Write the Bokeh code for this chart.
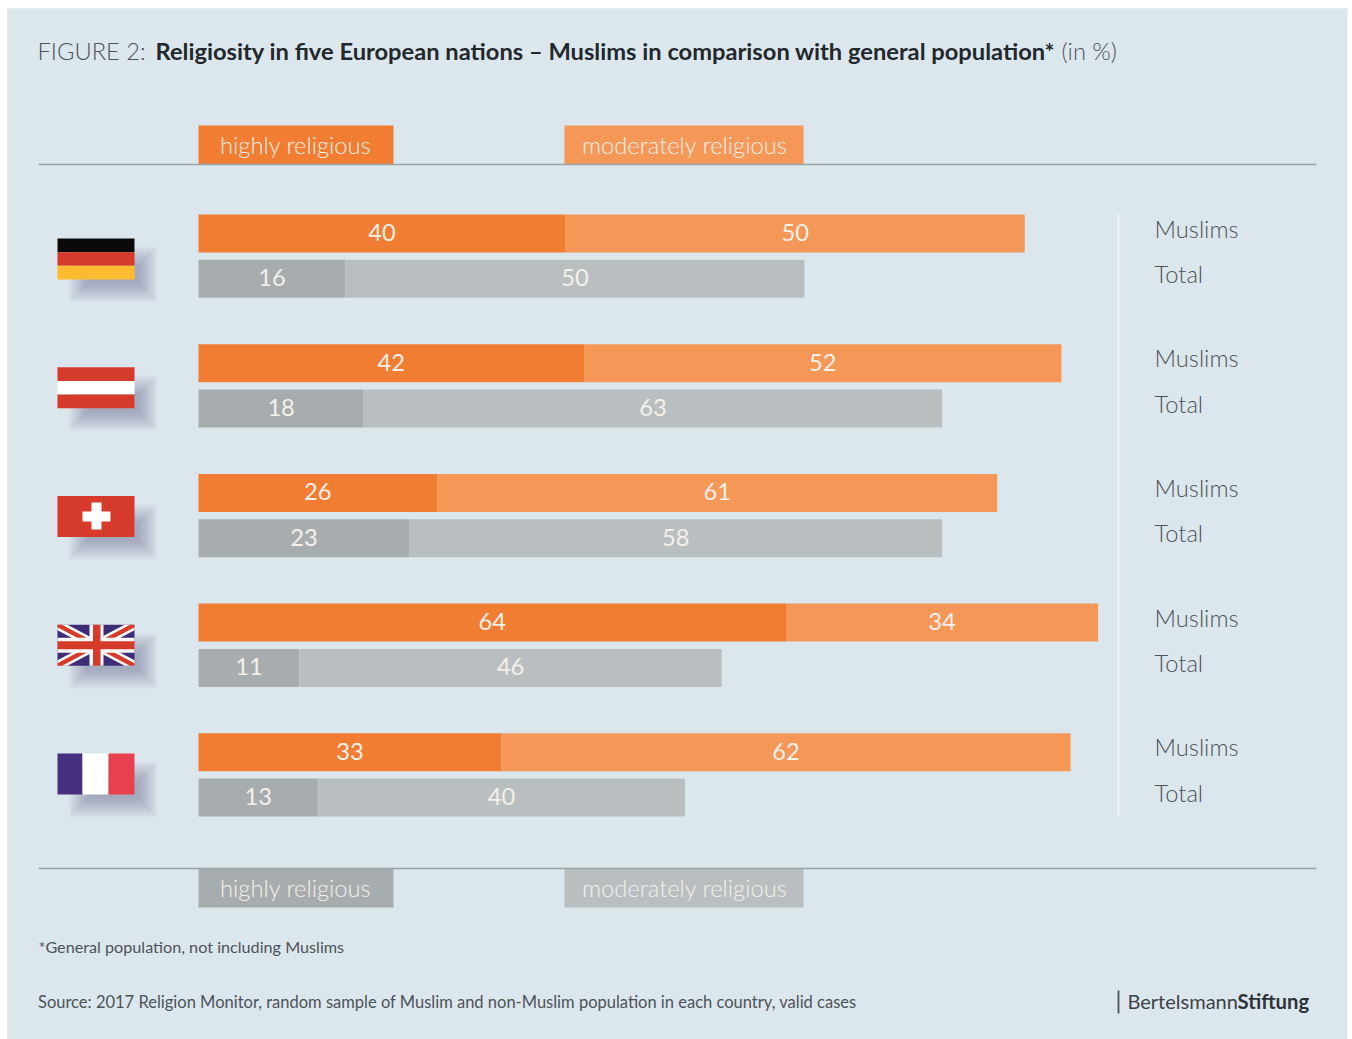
from bokeh.embed import file_html
from bokeh.resources import INLINE
from bokeh.models import Range1d
from bokeh.plotting import figure
from bokeh.core.properties import value

# Survey shares in percent, one row per country
countries = ["Germany", "Austria", "Switzerland", "United Kingdom", "France"]
muslims_high = [40, 42, 26, 64, 33]
muslims_moderate = [50, 52, 61, 34, 62]
total_high = [16, 18, 23, 11, 13]
total_moderate = [50, 63, 58, 46, 40]

WIDTH, HEIGHT = 1352, 1039
UNIT = 9.18          # page pixels per percentage point
ZERO = 198           # page x of the 0 % baseline
ROW_TOP = 233
ROW_STEP = 129.7
PAIR_GAP = 45.3
BAR_H = 38
TEXT_SIZE = 23.7

PANEL = "#dce7ed"
ORANGE_D = "#f07d32"
ORANGE_L = "#f49757"
GREY_D = "#a7adae"
GREY_L = "#b9bfc1"
INK = "#4c5358"
RULE = "#98a3a7"
ON_BAR = "#f4f0ea"

p = figure(
    width=WIDTH, height=HEIGHT, output_backend="svg", toolbar_location=None,
    x_range=Range1d(-ZERO / UNIT, (WIDTH - ZERO) / UNIT),
    y_range=Range1d(HEIGHT, 0),
    x_axis_location=None, y_axis_location=None, min_border=0,
    background_fill_color="white", border_fill_color="white", outline_line_color=None,
)
p.grid.visible = False
p.extra_x_ranges["page"] = Range1d(0, WIDTH)


def box(x0, y0, x1, y1, color, alpha=1.0):
    p.quad(left=[x0], right=[x1], top=[y0], bottom=[y1], fill_color=color, fill_alpha=alpha,
           line_color=None, x_range_name="page")


def label(x, y, s, size, color, font="Lato", style="normal", align="left"):
    p.text(x=[x], y=[y], text=[s], text_font=value(font), text_font_size=f"{size}px",
           text_font_style=style, text_color=color, text_align=align, text_baseline="middle",
           x_range_name="page")


def rule(x0, y0, x1, y1, color, width=1.6):
    p.line(x=[x0, x1], y=[y0, y1], line_color=color, line_width=width, x_range_name="page")


def poly(xs, ys, color):
    p.patch(x=xs, y=ys, fill_color=color, line_color=None, x_range_name="page")


box(6.7, 7.7, 1347, 1039, PANEL)

# Heading
label(37, 50, "FIGURE 2:", TEXT_SIZE, INK, font="Lato Light")
label(155, 50, "Religiosity in five European nations – Muslims in comparison with general population*",
      TEXT_SIZE, "#23282c", style="bold")
label(1061, 50, "(in %)", TEXT_SIZE, INK, font="Lato Light")

# Legends and rules
for top, c1, c2, rule_y in ((125, ORANGE_D, ORANGE_L, 164), (868, GREY_D, GREY_L, 868)):
    box(198, top, 393, top + 39, c1)
    box(564, top, 803, top + 39, c2)
    rule(38, rule_y, 1316, rule_y, RULE)
    label(219.5, top + 19, "highly religious", TEXT_SIZE, ON_BAR, font="Lato Light")
    label(581.5, top + 19, "moderately religious", TEXT_SIZE, ON_BAR, font="Lato Light")

# Stacked bars
for name, high, moderate, dy, c1, c2 in (
    ("Muslims", muslims_high, muslims_moderate, 0, ORANGE_D, ORANGE_L),
    ("Total", total_high, total_moderate, PAIR_GAP, GREY_D, GREY_L),
):
    ys = [ROW_TOP + ROW_STEP * i + dy for i in range(len(countries))]
    ends = [a + b for a, b in zip(high, moderate)]
    p.hbar(y=ys, left=0, right=high, height=BAR_H, fill_color=c1, line_color=None)
    p.hbar(y=ys, left=high, right=ends, height=BAR_H, fill_color=c2, line_color=None)
    for vals, starts in ((high, [0] * len(high)), (moderate, high)):
        p.text(x=[s + v / 2 for s, v in zip(starts, vals)], y=[y - 1 for y in ys],
               text=[str(v) for v in vals],
               text_font=value("Lato"), text_font_size=f"{TEXT_SIZE}px", text_color=ON_BAR,
               text_align="center", text_baseline="middle")
    for y in ys:
        label(1154, y - 5, name, TEXT_SIZE, INK, font="Lato Light")

rule(1118, 214, 1118, 816, "#f4f8fa", 1.6)


# Flags: soft drop shadow first, then the flag itself
FX0, FX1 = 57, 134
FLAG_H = 41
FLAG_STEP = 128.75
tops = [238 + FLAG_STEP * i for i in range(5)]


def shadow(t):
    for k in range(10, -11, -1):
        box(FX0 + 21 - k, t + 18 - k, FX1 + 13 + k, t + FLAG_H + 13 + k, "#6c7a84", 0.026)


for t in tops:
    shadow(t)

RED = "#d63a2a"
third = FLAG_H / 3

t = tops[0]
box(FX0, t, FX1, t + third, "#0a0a0a")
box(FX0, t + third, FX1, t + 2 * third, RED)
box(FX0, t + 2 * third, FX1, t + FLAG_H, "#fdbb2f")

t = tops[1]
box(FX0, t, FX1, t + third, RED)
box(FX0, t + third, FX1, t + 2 * third, "white")
box(FX0, t + 2 * third, FX1, t + FLAG_H, RED)

t = tops[2]
box(FX0, t, FX1, t + FLAG_H, RED)
box(82, t + 15.5, 110, t + 25.5, "white")
box(91, t + 6.5, 101, t + 33.5, "white")

t = tops[3]
b = t + FLAG_H
box(FX0, t, FX1, b, "#3d2c78")
for (x0, y0, x1, y1), wx, wy in (
    ((FX0, t, FX1, b), 10, 5.5), ((FX0, b, FX1, t), 10, -5.5),
):
    poly([x0, x0 + wx, x1, x1, x1 - wx, x0], [y0, y0, y1 - wy, y1, y1, y0 + wy], "#f8f8f8")
for (x0, y0, x1, y1), wx, wy in (
    ((FX0, t, FX1, b), 4.5, 2.4), ((FX0, b, FX1, t), 4.5, -2.4),
):
    poly([x0, x0 + wx, x1, x1, x1 - wx, x0], [y0, y0, y1 - wy, y1, y1, y0 + wy], RED)
box(FX0, t + 13, FX1, t + 28, "#f8f8f8")
box(89, t, 103, b, "#f8f8f8")
box(FX0, t + 16.5, FX1, t + 24.5, RED)
box(92.5, t, 100, b, RED)

t = tops[4]
box(FX0, t, 82, t + FLAG_H, "#47307f")
box(82, t, 108, t + FLAG_H, "white")
box(108, t, FX1, t + FLAG_H, "#e8404f")

# Footer
label(38, 945.5, "*General population, not including Muslims", 16.2, INK)
label(37.5, 1001, "Source: 2017 Religion Monitor, random sample of Muslim and non-Muslim population in each country, valid cases",
      16.5, INK)
rule(1118, 990, 1118, 1013, INK, 1.8)
label(1127, 1000, "Bertelsmann", 20, "#3c4348")
label(1237, 1000, "Stiftung", 20.3, "#2d3338", style="bold")

open("out.html", "w").write(file_html(p, INLINE))
